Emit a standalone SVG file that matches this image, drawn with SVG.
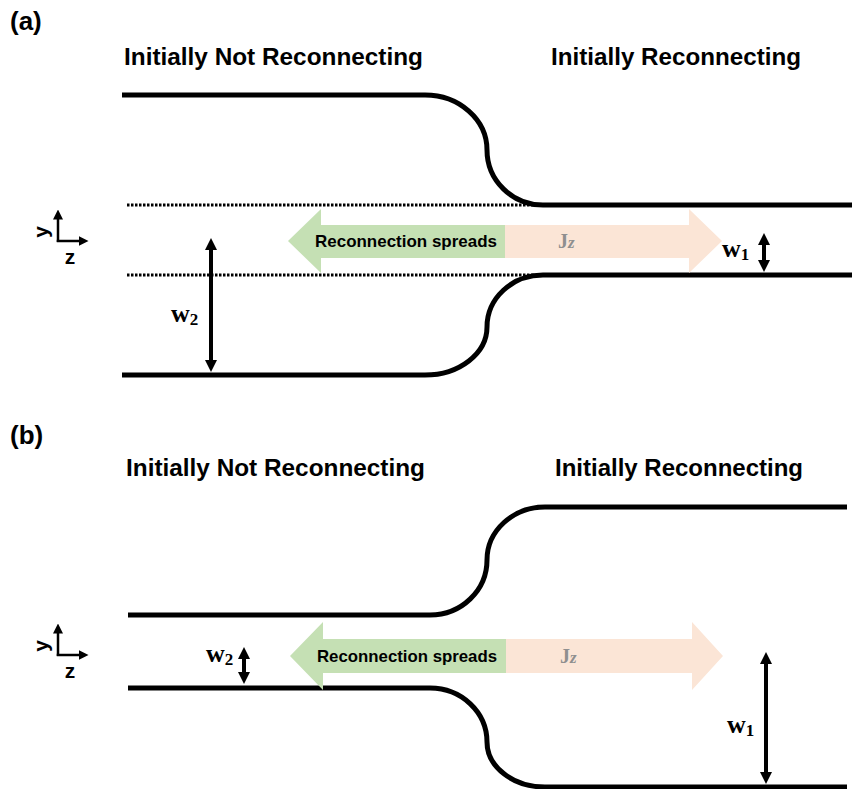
<svg xmlns="http://www.w3.org/2000/svg" width="852" height="789" viewBox="0 0 852 789">
<style>
.title{font-family:"Liberation Sans",Arial,sans-serif;font-weight:bold;font-size:24px;fill:#000}
.panel{font-family:"Liberation Sans",Arial,sans-serif;font-weight:bold;font-size:26px;fill:#000}
.ax{font-family:"Liberation Sans",Arial,sans-serif;font-weight:bold;font-size:21px;fill:#000}
.lbl{font-family:"Liberation Sans",Arial,sans-serif;font-weight:bold;font-size:17px;fill:#000}
.jz{font-family:"Liberation Serif","Times New Roman",serif;font-weight:bold;font-size:20px;fill:#8f8f8f}
.w{font-family:"Liberation Serif","Times New Roman",serif;font-weight:bold;font-size:26px;fill:#000}
.sub{font-size:17px}
.wall{fill:none;stroke:#000;stroke-width:5}
.dot{fill:none;stroke:#000;stroke-width:3;stroke-dasharray:2.5 1.5}
.dim{fill:none;stroke:#000;stroke-width:4;marker-start:url(#ah);marker-end:url(#ah)}
.axis{fill:none;stroke:#000;stroke-width:2.5;marker-end:url(#ahs)}
.green{fill:#c5e0b4}
.peach{fill:#fbe5d6}
</style>
<defs>
<marker id="ah" viewBox="0 0 10 10" refX="2.5" refY="5" markerWidth="12" markerHeight="12" markerUnits="userSpaceOnUse" orient="auto-start-reverse">
<path d="M0,0 L10,5 L0,10 Z" fill="#000"/>
</marker>
<marker id="ahs" viewBox="0 0 10 10" refX="2.5" refY="5" markerWidth="10" markerHeight="10" markerUnits="userSpaceOnUse" orient="auto-start-reverse">
<path d="M0,0 L10,5 L0,10 Z" fill="#000"/>
</marker>
</defs>

<g id="panel-a">
<text class="panel" x="10" y="30">(a)</text>
<text class="title" x="124" y="65" textLength="299" lengthAdjust="spacingAndGlyphs">Initially Not Reconnecting</text>
<text class="title" x="551" y="65" textLength="250" lengthAdjust="spacingAndGlyphs">Initially Reconnecting</text>

<g id="a-dotted">
<line class="dot" x1="127" y1="205" x2="535" y2="205"/>
<line class="dot" x1="127" y1="275" x2="535" y2="275"/>
</g>
<g id="a-walls">
<path class="wall" d="M122,95 H425 A62,55 0 0 1 487,150 A56,55 0 0 0 543,205 H852"/>
<path class="wall" d="M852,275 H543 A56,52 0 0 0 487,327 A62,48 0 0 1 425,375 H122"/>
</g>

<g id="a-axes">
<line class="axis" x1="58" y1="242" x2="58" y2="217"/>
<line class="axis" x1="56.75" y1="241" x2="81" y2="241"/>
<text class="ax" transform="translate(48,232) rotate(-90)" text-anchor="middle">y</text>
<text class="ax" x="70" y="264" text-anchor="middle">z</text>
</g>

<g id="a-arrow">
<path class="green" d="M505,225 H321 V209 L288,241 L321,273 V258 H505 Z"/>
<path class="peach" d="M505,225 H689 V209 L722,241 L689,273 V258 H505 Z"/>
<text class="lbl" x="315" y="247" textLength="182" lengthAdjust="spacingAndGlyphs">Reconnection spreads</text>
<text class="jz" x="558" y="248">J<tspan font-style="italic" font-size="17">z</tspan></text>
</g>

<g id="a-w2">
<line class="dim" x1="211" y1="247" x2="211" y2="363"/>
<text class="w" x="171" y="322">w<tspan class="sub" dy="3">2</tspan></text>
</g>
<g id="a-w1">
<line class="dim" x1="764" y1="242" x2="764" y2="263"/>
<text class="w" x="722" y="257">w<tspan class="sub" dy="3">1</tspan></text>
</g>
</g>

<g id="panel-b">
<text class="panel" x="10" y="444">(b)</text>
<text class="title" x="126" y="476" textLength="299" lengthAdjust="spacingAndGlyphs">Initially Not Reconnecting</text>
<text class="title" x="555" y="476" textLength="248" lengthAdjust="spacingAndGlyphs">Initially Reconnecting</text>

<g id="b-walls">
<path class="wall" d="M128,615 H430 A57,55 0 0 0 487,560 A58,53 0 0 1 545,507 H847"/>
<path class="wall" d="M128,688 H430 A57,54 0 0 1 487,742 A58,45 0 0 0 545,787 H847"/>
</g>

<g id="b-axes">
<line class="axis" x1="58" y1="656" x2="58" y2="631"/>
<line class="axis" x1="56.75" y1="655" x2="81" y2="655"/>
<text class="ax" transform="translate(48,646) rotate(-90)" text-anchor="middle">y</text>
<text class="ax" x="70" y="678" text-anchor="middle">z</text>
</g>

<g id="b-arrow">
<path class="green" d="M506,639 H323 V622 L290,656 L323,690 V673 H506 Z"/>
<path class="peach" d="M506,639 H692 V622 L723,656 L692,690 V673 H506 Z"/>
<text class="lbl" x="317" y="662" textLength="180" lengthAdjust="spacingAndGlyphs">Reconnection spreads</text>
<text class="jz" x="560" y="663">J<tspan font-style="italic" font-size="17">z</tspan></text>
</g>

<g id="b-w2">
<line class="dim" x1="244" y1="656" x2="244" y2="675"/>
<text class="w" x="206" y="662">w<tspan class="sub" dy="3">2</tspan></text>
</g>
<g id="b-w1">
<line class="dim" x1="766" y1="661" x2="766" y2="775"/>
<text class="w" x="727" y="733">w<tspan class="sub" dy="3">1</tspan></text>
</g>
</g>
</svg>
